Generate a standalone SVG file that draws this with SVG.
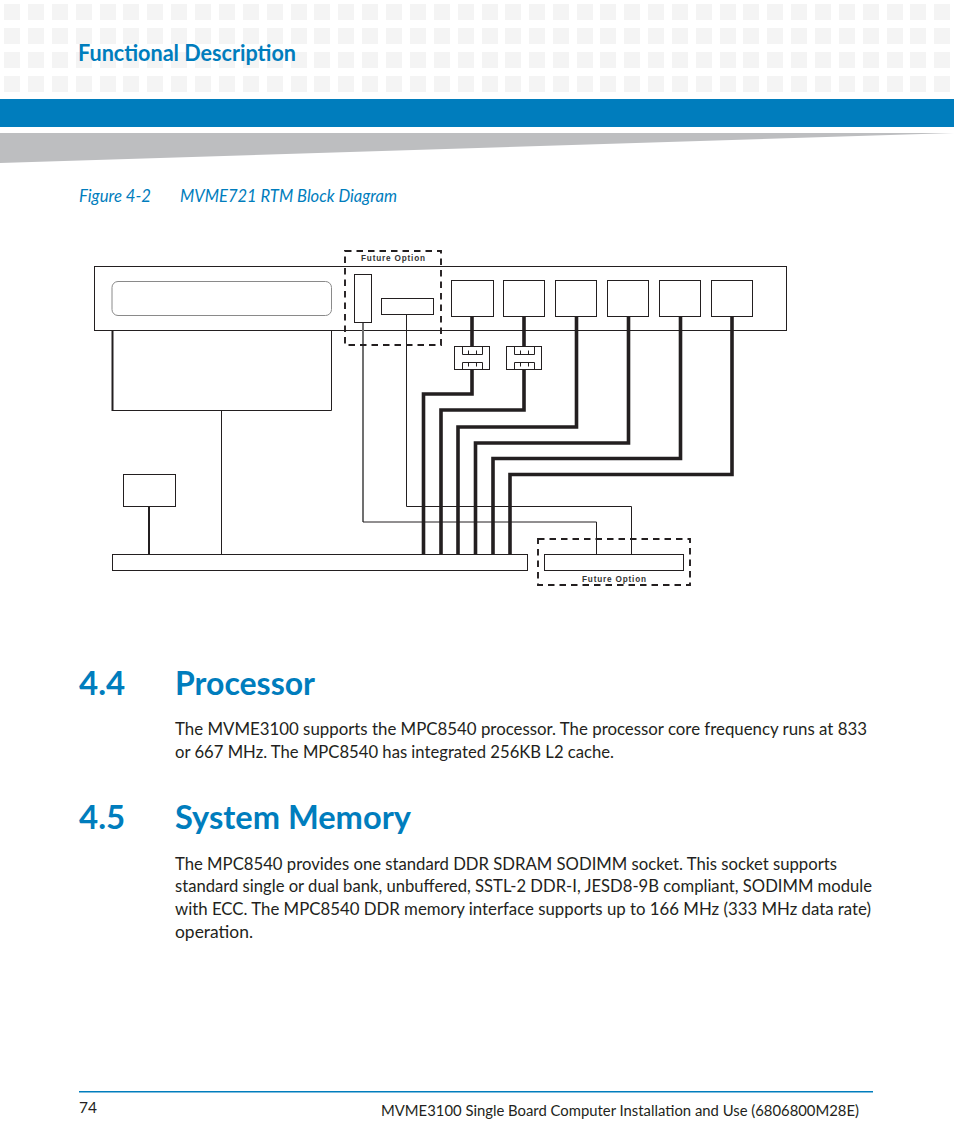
<svg xmlns="http://www.w3.org/2000/svg" width="954" height="1145" viewBox="0 0 954 1145">
<style>
text{font-family:"Lato","Open Sans","Liberation Sans",sans-serif}
.sq{fill:#f4f4f4}
.box{fill:#fff;stroke:#231f20;stroke-width:1}
.thin{fill:none;stroke:#231f20;stroke-width:1}
.thick{fill:none;stroke:#231f20;stroke-width:3.6}
.dash{fill:none;stroke:#231f20;stroke-width:1.9;stroke-dasharray:6.500 5}
.h1{font-size:33px;font-weight:700;fill:#007dbd}
.body{font-size:17.500px;fill:#231f20}
.fo{font-family:"Liberation Sans",sans-serif;font-size:8.200px;font-weight:bold;fill:#333}
</style>
<defs><g id="row"><rect class="sq" x="4" width="16" height="16"/><rect class="sq" x="28" width="16" height="16"/><rect class="sq" x="52" width="16" height="16"/><rect class="sq" x="76" width="16" height="16"/><rect class="sq" x="100" width="16" height="16"/><rect class="sq" x="123" width="16" height="16"/><rect class="sq" x="147" width="16" height="16"/><rect class="sq" x="171" width="16" height="16"/><rect class="sq" x="195" width="16" height="16"/><rect class="sq" x="219" width="16" height="16"/><rect class="sq" x="243" width="16" height="16"/><rect class="sq" x="267" width="16" height="16"/><rect class="sq" x="291" width="16" height="16"/><rect class="sq" x="314" width="16" height="16"/><rect class="sq" x="338" width="16" height="16"/><rect class="sq" x="362" width="16" height="16"/><rect class="sq" x="386" width="16" height="16"/><rect class="sq" x="410" width="16" height="16"/><rect class="sq" x="434" width="16" height="16"/><rect class="sq" x="458" width="16" height="16"/><rect class="sq" x="482" width="16" height="16"/><rect class="sq" x="505" width="16" height="16"/><rect class="sq" x="529" width="16" height="16"/><rect class="sq" x="553" width="16" height="16"/><rect class="sq" x="577" width="16" height="16"/><rect class="sq" x="600" width="16" height="16"/><rect class="sq" x="624" width="16" height="16"/><rect class="sq" x="648" width="16" height="16"/><rect class="sq" x="672" width="16" height="16"/><rect class="sq" x="696" width="16" height="16"/><rect class="sq" x="720" width="16" height="16"/><rect class="sq" x="743" width="16" height="16"/><rect class="sq" x="767" width="16" height="16"/><rect class="sq" x="791" width="16" height="16"/><rect class="sq" x="815" width="16" height="16"/><rect class="sq" x="839" width="16" height="16"/><rect class="sq" x="863" width="16" height="16"/><rect class="sq" x="887" width="16" height="16"/><rect class="sq" x="910" width="16" height="16"/><rect class="sq" x="934" width="16" height="16"/></g>
<g id="conn"><rect class="box" x="0" y="0" width="35" height="23"/><path class="thin" d="M8 0V8H28V0M8 23V16H28V23M14 8V4M22 8V4M14 16V20M22 16V20"/></g></defs>
<rect width="954" height="1145" fill="#fff"/>
<g id="header">
<use href="#row" y="4"/><use href="#row" y="28"/><use href="#row" y="52"/><use href="#row" y="76"/>
<rect x="0" y="99" width="954" height="28" fill="#007dbd"/>
<polygon points="0,133 954,133 0,163" fill="#bdbec0"/>
<text x="78" y="61" font-size="22.500" font-weight="700" fill="#007dbd" textLength="218" lengthAdjust="spacingAndGlyphs">Functional Description</text>
</g>
<g id="caption" fill="#007dbd" font-size="17.500">
<text x="79" y="202" font-style="italic" textLength="72" lengthAdjust="spacingAndGlyphs">Figure 4-2</text>
<text x="180" y="202" font-style="italic" textLength="217" lengthAdjust="spacingAndGlyphs">MVME721 RTM Block Diagram</text>
</g>
<g id="chassis"><rect class="box" x="94.500" y="266.500" width="692" height="64"/></g>
<g id="slot"><rect x="112" y="281.500" width="219.500" height="34" rx="6" fill="#fff" stroke="#8a8a8a" stroke-width="1"/></g>
<g id="card"><path class="thin" d="M331.500 331V410.500H112.500"/><path d="M112.500 331V411" fill="none" stroke="#231f20" stroke-width="2"/></g>
<g id="small-box"><rect class="box" x="123.500" y="474.500" width="52" height="32"/></g>
<g id="bus-bar"><rect class="box" x="112.500" y="554.500" width="415" height="16"/></g>
<g id="option-bar"><rect class="box" x="544.500" y="554.500" width="139" height="16"/></g>
<g id="connectors">
<path class="thin" d="M221.500 410V554"/>
<path d="M149 506V554" fill="none" stroke="#231f20" stroke-width="2"/>
<path class="thin" d="M406.500 314V506.500H631.500V554"/>
<path d="M363 322V522" fill="none" stroke="#707070" stroke-width="2"/>
<path class="thin" d="M363 522H596.500V554"/>
<path class="thick" d="M472 316V346M472 369V394H423.500V554"/>
<path class="thick" d="M524 316V346M524 369V410H441V554"/>
<path class="thick" d="M576.500 316V427H458V554"/>
<path class="thick" d="M628.500 316V443H475.500V554"/>
<path class="thick" d="M680.500 316V458.500H493V554"/>
<path class="thick" d="M732 316V474.500H510V554"/>
</g>
<g id="future-1"><rect class="dash" x="345" y="251" width="96" height="94"/><text class="fo" x="361" y="261" textLength="64">Future Option</text></g>
<g id="future-2"><rect class="dash" x="538" y="539" width="152" height="46"/><text class="fo" x="582" y="582" textLength="64">Future Option</text></g>
<g id="opt-tall"><rect class="box" x="354.500" y="274.500" width="17" height="48"/></g>
<g id="opt-wide"><rect class="box" x="381.500" y="298.500" width="52" height="16"/></g>
<g id="port1"><rect class="box" x="451.500" y="280.500" width="42" height="36"/></g>
<g id="port2"><rect class="box" x="503.500" y="280.500" width="41" height="36"/></g>
<g id="port3"><rect class="box" x="555.500" y="280.500" width="41" height="36"/></g>
<g id="port4"><rect class="box" x="607.500" y="280.500" width="41" height="36"/></g>
<g id="port5"><rect class="box" x="659.500" y="280.500" width="41" height="36"/></g>
<g id="port6"><rect class="box" x="711.500" y="280.500" width="41" height="36"/></g>
<g id="conn1"><use href="#conn" x="454.500" y="346.500"/></g>
<g id="conn2"><use href="#conn" x="506.500" y="346.500"/></g>
<g id="body">
<text class="h1" x="79" y="695">4.4</text>
<text class="h1" x="175" y="695" textLength="140" lengthAdjust="spacingAndGlyphs">Processor</text>
<text class="body" x="175" y="735" textLength="692" lengthAdjust="spacingAndGlyphs">The MVME3100 supports the MPC8540 processor. The processor core frequency runs at 833</text>
<text class="body" x="175" y="758" textLength="439" lengthAdjust="spacingAndGlyphs">or 667 MHz. The MPC8540 has integrated 256KB L2 cache.</text>
<text class="h1" x="79" y="829">4.5</text>
<text class="h1" x="175" y="829" textLength="236" lengthAdjust="spacingAndGlyphs">System Memory</text>
<text class="body" x="175" y="870" textLength="662" lengthAdjust="spacingAndGlyphs">The MPC8540 provides one standard DDR SDRAM SODIMM socket. This socket supports</text>
<text class="body" x="175" y="892" textLength="697" lengthAdjust="spacingAndGlyphs">standard single or dual bank, unbuffered, SSTL-2 DDR-I, JESD8-9B compliant, SODIMM module</text>
<text class="body" x="175" y="915" textLength="696" lengthAdjust="spacingAndGlyphs">with ECC. The MPC8540 DDR memory interface supports up to 166 MHz (333 MHz data rate)</text>
<text class="body" x="175" y="938" textLength="78" lengthAdjust="spacingAndGlyphs">operation.</text>
</g>
<g id="footer">
<rect x="79" y="1091" width="794" height="1.500" fill="#007dbd"/>
<text x="79" y="1113" font-size="15.500" fill="#231f20">74</text>
<text x="381" y="1116" font-size="15.500" fill="#231f20" textLength="478" lengthAdjust="spacingAndGlyphs">MVME3100 Single Board Computer Installation and Use (6806800M28E)</text>
</g>
</svg>
